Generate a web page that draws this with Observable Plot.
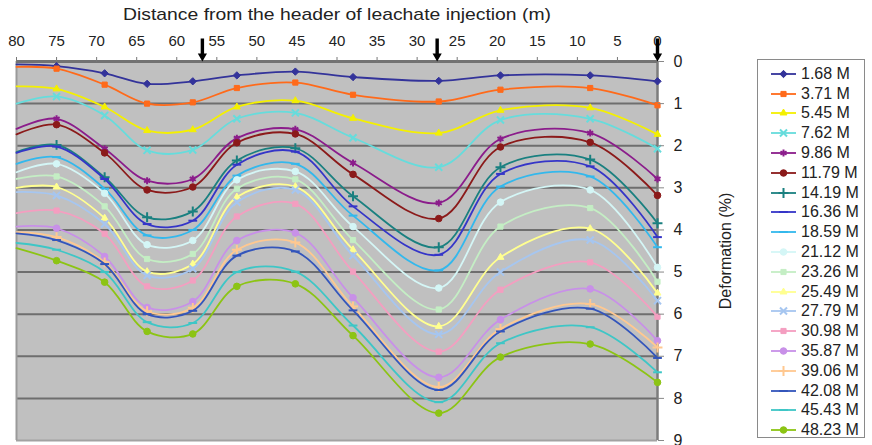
<!DOCTYPE html>
<html><head><meta charset="utf-8">
<script src="https://cdn.jsdelivr.net/npm/d3@7"></script>
<script src="https://cdn.jsdelivr.net/npm/@observablehq/plot@0.6"></script>
<style>
body{margin:0;background:#fff;font-family:"Liberation Sans",Arial,sans-serif;}
#wrap{position:relative;width:872px;height:445px;overflow:hidden;}
#legend{position:absolute;left:757px;top:59px;width:108px;height:379px;border:1px solid #8a8a8a;box-sizing:border-box;padding-top:4px;background:#fff;}
.item{height:19.8px;display:flex;align-items:center;font-size:16px;color:#222;white-space:nowrap;}
.item svg{flex:none;}
</style></head><body><div id="wrap"></div>
<script>
// ---- data ----
const distances = [80, 75, 69, 63.7, 58, 52.5, 45.2, 38, 27.3, 19.6, 8.4, 0];
const seriesNames = ["1.68 M","3.71 M","5.45 M","7.62 M","9.86 M","11.79 M","14.19 M","16.36 M","18.59 M","21.12 M","23.26 M","25.49 M","27.79 M","30.98 M","35.87 M","39.06 M","42.08 M","45.43 M","48.23 M"];
const s1  = [0.07, 0.11, 0.28, 0.53, 0.47, 0.33, 0.24, 0.37, 0.46, 0.33, 0.33, 0.47];
const s2  = [0.13, 0.17, 0.55, 1.00, 0.97, 0.63, 0.50, 0.79, 0.95, 0.67, 0.63, 1.04];
const s3  = [0.59, 0.65, 1.08, 1.64, 1.62, 1.08, 0.93, 1.35, 1.70, 1.16, 1.10, 1.73];
const s4  = [1.00, 0.83, 1.28, 2.11, 2.10, 1.36, 1.22, 1.81, 2.51, 1.39, 1.36, 2.07];
const s5  = [1.60, 1.36, 2.07, 2.83, 2.79, 1.82, 1.61, 2.41, 3.36, 1.84, 1.70, 2.79];
const s6  = [1.73, 1.50, 2.17, 3.05, 2.98, 1.93, 1.72, 2.68, 3.73, 2.03, 1.92, 3.18];
const s7  = [2.15, 1.98, 2.75, 3.70, 3.56, 2.35, 2.06, 3.20, 4.41, 2.51, 2.33, 3.84];
const s8  = [2.17, 2.02, 2.79, 3.86, 3.78, 2.45, 2.14, 3.44, 4.59, 2.67, 2.49, 4.17];
const s9  = [2.43, 2.27, 3.02, 4.13, 4.00, 2.71, 2.43, 3.66, 4.96, 2.97, 2.73, 4.41];
const s10 = [2.63, 2.43, 3.13, 4.35, 4.25, 2.81, 2.61, 3.92, 5.38, 3.34, 3.05, 4.89];
const s11 = [2.79, 2.73, 3.44, 4.69, 4.57, 3.02, 2.80, 4.24, 5.89, 3.92, 3.48, 5.23];
const s12 = [3.00, 2.98, 3.72, 4.99, 4.81, 3.22, 2.97, 4.47, 6.29, 4.65, 3.97, 5.50];
const s13 = [3.10, 3.18, 3.86, 5.08, 4.92, 3.34, 3.05, 4.61, 6.48, 5.00, 4.24, 5.68];
const s14 = [3.60, 3.54, 4.09, 5.34, 5.20, 3.68, 3.38, 4.99, 6.89, 5.42, 4.77, 6.06];
const s15 = [3.92, 3.96, 4.63, 5.84, 5.70, 4.25, 4.07, 5.61, 7.50, 6.13, 5.40, 6.63];
const s16 = [4.05, 4.17, 4.77, 5.93, 5.85, 4.47, 4.30, 5.82, 7.73, 6.35, 5.76, 6.79];
const s17 = [4.08, 4.24, 4.81, 6.00, 5.92, 4.61, 4.51, 5.91, 7.80, 6.41, 5.87, 7.04];
const s18 = [4.31, 4.47, 5.00, 6.19, 6.21, 5.00, 4.99, 6.27, 8.09, 6.69, 6.31, 7.38];
const s19 = [4.43, 4.73, 5.24, 6.41, 6.47, 5.34, 5.28, 6.51, 8.35, 7.02, 6.71, 7.62];
const seriesValues = [s1,s2,s3,s4,s5,s6,s7,s8,s9,s10,s11,s12,s13,s14,s15,s16,s17,s18,s19];
const xTicks = [80, 75, 70, 65, 60, 55, 50, 45, 40, 35, 30, 25, 20, 15, 10, 5, 0];
const yTicks = [0, 1, 2, 3, 4, 5, 6, 7, 8, 9];
const injectionPoints = [56.8, 27.5, 0];
const xTitle = "Distance from the header of leachate injection (m)";
const yTitle = "Deformation (%)";

// ---- styles ----
const seriesColors = ["#33339a","#ff6a1a","#f4f000","#66dcdc","#8b1c8b","#8b1a1a","#1a8080","#3535c8","#33b8ec","#d4f6f6","#c4eec4","#ffff90","#a6c6f0","#f49ec0","#c890e8","#ffc890","#3355bb","#3ec6c6","#8cc414"];
const dashSym = {draw(ctx, size){ const w = Math.sqrt(size) * 0.75; ctx.moveTo(-w, 0); ctx.lineTo(w, 0); }};
const symMap = {diamond: d3.symbolDiamond2, square: d3.symbolSquare2, triangle: d3.symbolTriangle2, times: d3.symbolTimes, asterisk: d3.symbolAsterisk, circle: d3.symbolCircle, plus: d3.symbolPlus, dash: dashSym};
const seriesMarkers = ["diamond","square","triangle","times","asterisk","circle","plus","dash","dash","circle","square","triangle","times","square","circle","plus","dash","dash","circle"];
const strokeOnly = new Set(["times","asterisk","plus","dash"]);
const arrowSym = {draw(ctx){ ctx.moveTo(-1.7,-12); ctx.lineTo(1.7,-12); ctx.lineTo(1.7,3); ctx.lineTo(4.6,3); ctx.lineTo(0,11); ctx.lineTo(-4.6,3); ctx.lineTo(-1.7,3); ctx.closePath(); }};

const rows = seriesNames.flatMap((name, i) => distances.map((d, j) => ({name, i, j, x: d, y: seriesValues[i][j]})));

const marks = [
  Plot.frame({fill: "#c0c0c0", stroke: "none"}),
  Plot.ruleY(yTicks.filter(v => v > 0 && v < 9), {stroke: "#6e6e6e", strokeWidth: 2}),
  Plot.ruleY([9], {stroke: "#a2a2a2", strokeWidth: 2}),
  Plot.ruleX([80], {stroke: "#9a9a9a", strokeWidth: 2}),
  Plot.ruleX([0], {stroke: "#7c7c7c", strokeWidth: 2.5}),
  Plot.ruleY([0], {stroke: "#727272", strokeWidth: 3})
];
seriesNames.forEach((name, i) => {
  const data = rows.filter(r => r.i === i);
  const m = seriesMarkers[i];
  marks.push(Plot.line(data, {x: "x", y: "y", curve: "catmull-rom", stroke: seriesColors[i], strokeWidth: 1.8}));
  marks.push(Plot.dot(data.filter(r => r.j > 0), {x: "x", y: "y", symbol: symMap[m], r: 3.3,
    fill: strokeOnly.has(m) ? "none" : seriesColors[i], stroke: seriesColors[i], strokeWidth: strokeOnly.has(m) ? 2 : 1}));
});
marks.push(
  Plot.axisX({anchor: "top", ticks: xTicks, tickSize: 5, tickPadding: 11, stroke: "#777", fontSize: 15, fill: "#222",
    label: xTitle, labelAnchor: "center", labelOffset: 54, labelArrow: "none"}),
  Plot.axisY({anchor: "right", ticks: yTicks, tickSize: 6, tickPadding: 10, stroke: "#888", fontSize: 16, fill: "#222",
    label: yTitle, labelAnchor: "center", labelOffset: 73, labelArrow: "none"}),
  Plot.dot(injectionPoints, {x: d => d, frameAnchor: "top", dy: -11, symbol: arrowSym, fill: "#000", stroke: "none"})
);

const chart = Plot.plot({
  width: 750, height: 445,
  marginTop: 61, marginBottom: 5, marginLeft: 16, marginRight: 93,
  style: {fontFamily: '"Liberation Sans", Arial, sans-serif', fontSize: "15px", color: "#222", background: "transparent", overflow: "visible"},
  x: {domain: [80, 0], label: null},
  y: {domain: [0, 9], reverse: true, label: null},
  marks
});
const wrap = document.getElementById("wrap");
wrap.appendChild(chart);
d3.select(chart).selectAll("[aria-label='x-axis label'] text")
  .style("font-size", "17px").attr("textLength", 428).attr("lengthAdjust", "spacingAndGlyphs");
d3.select(chart).selectAll("[aria-label='y-axis label'] text").style("font-size", "16px");

// ---- legend ----
const legend = document.createElement("div");
legend.id = "legend";
seriesNames.forEach((name, i) => {
  const item = document.createElement("div");
  item.className = "item";
  const svg = d3.create("svg").attr("width", 43).attr("height", 14);
  svg.append("line").attr("x1", 13).attr("x2", 38).attr("y1", 7).attr("y2", 7).attr("stroke", seriesColors[i]).attr("stroke-width", 1.8);
  const m = seriesMarkers[i];
  svg.append("path").attr("transform", "translate(25.5,7)").attr("d", d3.symbol(symMap[m], 34)())
    .attr("fill", strokeOnly.has(m) ? "none" : seriesColors[i]).attr("stroke", seriesColors[i]).attr("stroke-width", strokeOnly.has(m) ? 2 : 1);
  item.appendChild(svg.node());
  const t = document.createElement("span");
  t.textContent = name;
  item.appendChild(t);
  legend.appendChild(item);
});
wrap.appendChild(legend);
</script></body></html>
